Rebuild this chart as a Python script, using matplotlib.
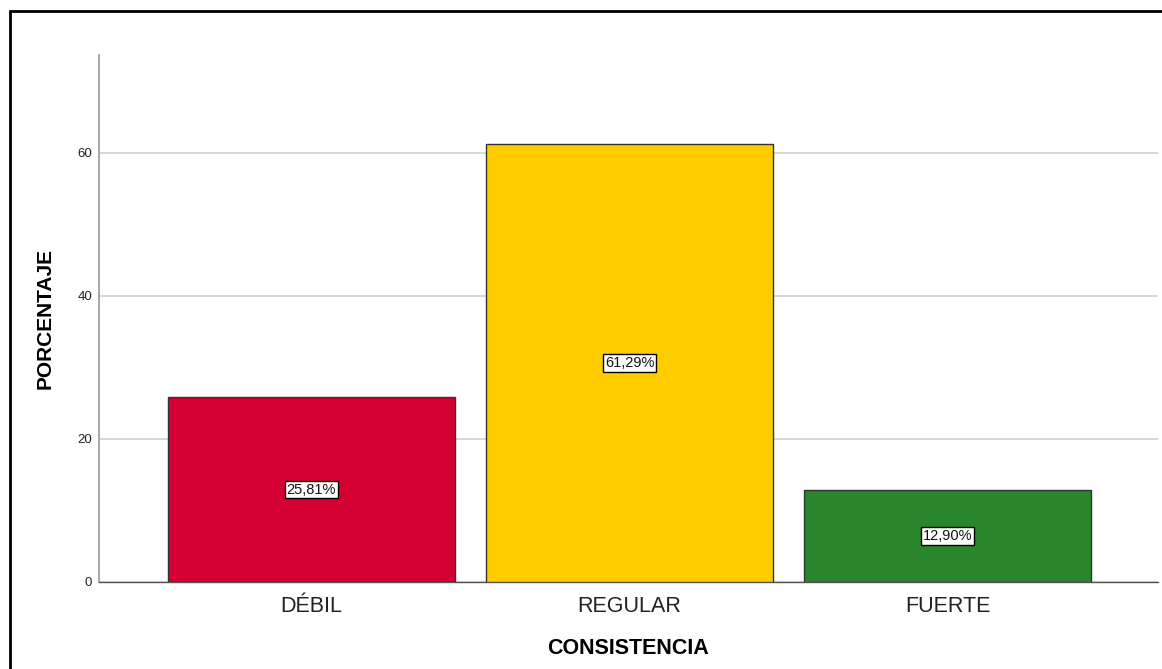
import matplotlib
matplotlib.use("Agg")
import matplotlib.pyplot as plt
from matplotlib.patches import Rectangle

categories = ["DÉBIL", "REGULAR", "FUERTE"]
values = [25.81, 61.29, 12.90]
bar_colors = ["#D50032", "#FFCC00", "#2A862C"]
y_ticks = [0, 20, 40, 60]

plt.rcParams["font.family"] = ["Liberation Sans", "DejaVu Sans"]

W, H = 1162, 669
fig = plt.figure(figsize=(W / 100, H / 100), dpi=100)
fig.patch.set_facecolor("white")

# outer frame
fig.add_artist(Rectangle((9.5 / W, -0.05), 1.2, 1 - 11 / H + 0.05,
                         transform=fig.transFigure, fill=False,
                         edgecolor="black", linewidth=2.0))

ax = fig.add_axes([99 / W, 1 - 582 / H, (1158 - 99) / W, (582 - 55) / H])
x = list(range(len(categories)))
bars = ax.bar(x, values, width=0.9, color=bar_colors, edgecolor="#333333",
              linewidth=1.0, zorder=3)

for xi, v in zip(x, values):
    ax.text(xi, v / 2, f"{v:.2f}%".replace(".", ","), ha="center", va="center",
            fontsize=10.5, color="#111111", zorder=4,
            bbox=dict(boxstyle="square,pad=0.12", facecolor="white",
                      edgecolor="black", linewidth=1.0))

ax.set_xlim(-0.668, 2.662)
ax.set_ylim(0, 73.7)
ax.set_yticks(y_ticks)
ax.set_yticklabels([str(t) for t in y_ticks], fontsize=9.5, color="#222222")
ax.set_xticks(x)
ax.set_xticklabels(categories, fontsize=15.5, color="#222222")
ax.tick_params(axis="x", length=0, pad=10)
ax.tick_params(axis="y", length=0, pad=5)

ax.yaxis.grid(True, color="#cfcfcf", linewidth=1.2, zorder=0)
ax.set_axisbelow(True)

for side in ["top", "right"]:
    ax.spines[side].set_visible(False)
ax.spines["left"].set_color("#999999")
ax.spines["left"].set_linewidth(1.2)
ax.spines["bottom"].set_color("#555555")
ax.spines["bottom"].set_linewidth(1.0)

ax.set_xlabel("CONSISTENCIA", fontsize=15.5, fontweight="bold", labelpad=15)
ax.set_ylabel("PORCENTAJE", fontsize=15, fontweight="bold", labelpad=16)

fig.savefig("out.png", dpi=100)
